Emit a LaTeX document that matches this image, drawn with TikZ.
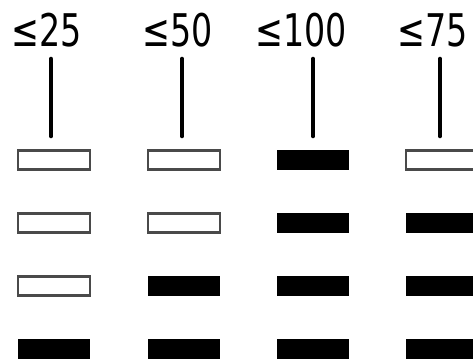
\documentclass[tikz,border=0pt]{standalone}
\usepackage{fontspec}
\setmainfont{DejaVu Sans}
\definecolor{outl}{HTML}{4A4A4A}
\begin{document}
\begin{tikzpicture}[x=1pt,y=-1pt,
  hollowbar/.style={draw=outl,line width=2.6pt,fill=white,minimum width=72pt,minimum height=19pt,inner sep=0pt,outer sep=0pt},
  fullbar/.style={fill=black,minimum width=72pt,minimum height=20.5pt,inner sep=0pt,outer sep=0pt},
  stem/.style={line width=4.6pt,line cap=round},
  lbl/.style={anchor=base,inner sep=0pt,font=\fontsize{45}{45}\selectfont}]
\useasboundingbox (0,0) rectangle (473,362);
% labels
\node[lbl] (t1) at (47,46) {\scalebox{0.74}[1]{≤25}};
\node[lbl] (t2) at (178,46) {\scalebox{0.74}[1]{≤50}};
\node[lbl] (t3) at (301,46) {\scalebox{0.74}[1]{≤100}};
\node[lbl] (t4) at (433,46) {\scalebox{0.74}[1]{≤75}};
% stems
\foreach \i/\x in {1/51,2/182,3/313,4/440}{
  \coordinate (s\i a) at (\x,59);
  \coordinate (s\i b) at (\x,136);
  \draw[stem] (s\i a) -- (s\i b);
}
% bars: column centers 54,184,313,442 ; row centers 160,223,286,349
\node[hollowbar] (b11) at (54,160) {};
\node[hollowbar] (b12) at (54,223) {};
\node[hollowbar] (b13) at (54,286) {};
\node[fullbar]   (b14) at (54,349) {};
\node[hollowbar] (b21) at (184,160) {};
\node[hollowbar] (b22) at (184,223) {};
\node[fullbar]   (b23) at (184,286) {};
\node[fullbar]   (b24) at (184,349) {};
\node[fullbar]   (b31) at (313,160) {};
\node[fullbar]   (b32) at (313,223) {};
\node[fullbar]   (b33) at (313,286) {};
\node[fullbar]   (b34) at (313,349) {};
\node[hollowbar] (b41) at (442,160) {};
\node[fullbar]   (b42) at (442,223) {};
\node[fullbar]   (b43) at (442,286) {};
\node[fullbar]   (b44) at (442,349) {};
\end{tikzpicture}
\end{document}
